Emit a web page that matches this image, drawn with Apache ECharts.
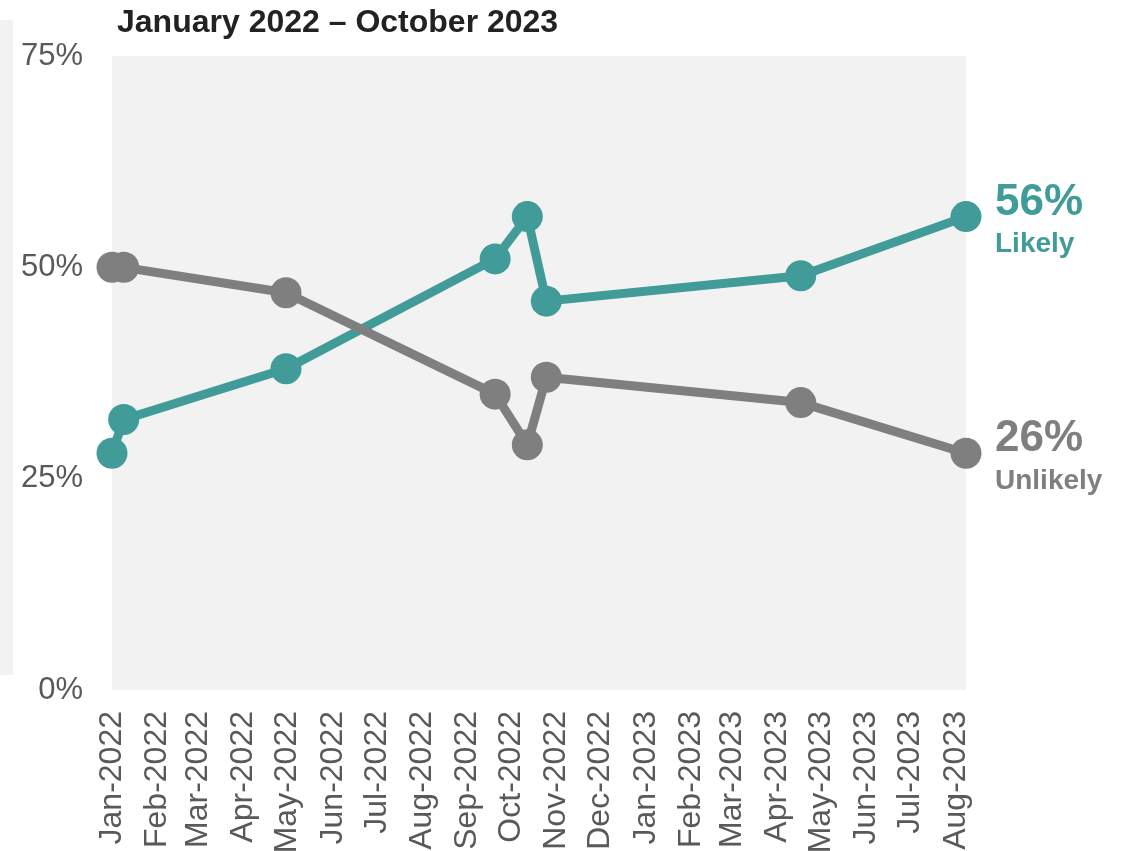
<!DOCTYPE html>
<html>
<head>
    <meta charset="utf-8">
    <title>Likely vs Unlikely</title>
    <script src="https://cdn.jsdelivr.net/npm/echarts@6/dist/echarts.min.js"></script>
    <style>
        html, body { margin: 0; padding: 0; background: #fff; }
    </style>
</head>
<body>
    <div id="main" style="width: 1124px;height:851px;"></div>
    <script type="text/javascript">
        // survey dates
        var surveyDates = ['2022-01-01', '2022-01-09', '2022-04-30', '2022-09-20', '2022-10-12', '2022-10-25', '2023-04-17', '2023-08-08'];
        var likely = [28, 32, 38, 51, 56, 46, 49, 56];
        var unlikely = [50, 50, 47, 35, 29, 37, 34, 28];

        var tickLabels = ['Jan-2022', 'Feb-2022', 'Mar-2022', 'Apr-2022', 'May-2022', 'Jun-2022',
            'Jul-2022', 'Aug-2022', 'Sep-2022', 'Oct-2022', 'Nov-2022', 'Dec-2022',
            'Jan-2023', 'Feb-2023', 'Mar-2023', 'Apr-2023', 'May-2023', 'Jun-2023',
            'Jul-2023', 'Aug-2023'];
        var yTicks = [0, 25, 50, 75];

        var endText = { likely: ['56%', 'Likely'], unlikely: ['26%', 'Unlikely'] };

        var TEAL = '#419b98';
        var GREY = '#7f7f7f';
        var MONTHS = ['Jan', 'Feb', 'Mar', 'Apr', 'May', 'Jun', 'Jul', 'Aug', 'Sep', 'Oct', 'Nov', 'Dec'];
        var DAY = 86400000;

        // x is counted in days from 1 Jan 2022
        var ORIGIN = Date.UTC(2022, 0, 1);
        function parseDay(s) {
            var p = s.split('-');
            return Math.round((Date.UTC(+p[0], +p[1] - 1, +p[2]) - ORIGIN) / DAY);
        }
        function parseTick(s) {
            var p = s.split('-');
            return Math.round((Date.UTC(+p[1], MONTHS.indexOf(p[0]), 1) - ORIGIN) / DAY);
        }
        var tickValues = tickLabels.map(parseTick);
        var xs = surveyDates.map(parseDay);

        function pairs(vals) {
            return vals.map(function (v, i) { return [xs[i], v]; });
        }

        var myChart = echarts.init(document.getElementById('main'));

        var labelFont = 'Liberation Sans, Arial, sans-serif';

        function endLabel(color, txt) {
            return {
                show: true,
                distance: 29,
                offset: [0, 4],
                formatter: '{a|' + txt[0] + '}\n{b|' + txt[1] + '}',
                rich: {
                    a: { fontFamily: labelFont, fontWeight: 'bold', fontSize: 44, color: color, lineHeight: 48 },
                    b: { fontFamily: labelFont, fontWeight: 'bold', fontSize: 28, color: color, lineHeight: 36 }
                }
            };
        }

        var option = {
            animation: false,
            title: {
                text: 'January 2022 \u2013 October 2023',
                left: 112,
                top: 2,
                textStyle: { fontFamily: labelFont, fontWeight: 'bold', fontSize: 32, color: '#222' }
            },
            graphic: [{
                type: 'rect',
                left: 0,
                top: 20,
                shape: { width: 13, height: 655 },
                style: { fill: '#f2f2f2' },
                z: -1
            }],
            grid: {
                left: 112,
                right: 158,
                top: 56,
                bottom: 161,
                outerBoundsMode: 'none',
                containLabel: false,
                show: true,
                backgroundColor: '#f2f2f2',
                borderWidth: 0
            },
            xAxis: {
                type: 'value',
                min: parseDay('2022-01-01'),
                max: parseDay('2023-08-08'),
                axisLine: { show: false },
                axisTick: { show: false },
                splitLine: { show: false },
                axisLabel: {
                    customValues: tickValues,
                    rotate: 90,
                    margin: 21,
                    color: '#595959',
                    fontFamily: labelFont,
                    fontSize: 32,
                    formatter: function (v) {
                        return tickLabels[tickValues.indexOf(v)] || '';
                    }
                }
            },
            yAxis: {
                type: 'value',
                min: 0,
                max: 75,
                interval: 25,
                axisLine: { show: false },
                axisTick: { show: false },
                splitLine: { show: false },
                axisLabel: {
                    customValues: yTicks,
                    margin: 29,
                    color: '#595959',
                    fontFamily: labelFont,
                    fontSize: 31,
                    formatter: '{value}%'
                }
            },
            series: [{
                name: 'Likely',
                type: 'line',
                data: pairs(likely),
                symbol: 'circle',
                symbolSize: 31,
                clip: false,
                lineStyle: { color: TEAL, width: 9 },
                itemStyle: { color: TEAL },
                endLabel: endLabel(TEAL, endText.likely)
            }, {
                name: 'Unlikely',
                type: 'line',
                data: pairs(unlikely),
                symbol: 'circle',
                symbolSize: 31,
                clip: false,
                lineStyle: { color: GREY, width: 9 },
                itemStyle: { color: GREY },
                endLabel: endLabel(GREY, endText.unlikely)
            }]
        };

        myChart.setOption(option);
    </script>
</body>
</html>
